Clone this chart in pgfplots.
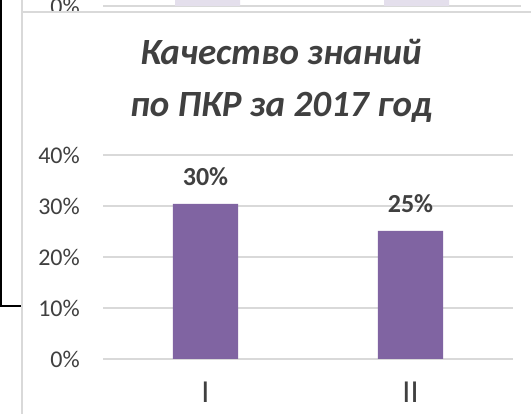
\documentclass[border=0pt]{standalone}
\usepackage{pgfplots}
\pgfplotsset{compat=1.18}
\pgfplotsset{/pgf/number format/assume math mode=true}
\usepackage{fontspec}
\setmainfont{Carlito}
\definecolor{barpurple}{HTML}{8064A2}
\definecolor{barpale}{HTML}{E4DFEC}
\definecolor{gridgrey}{HTML}{D9D9D9}
\definecolor{txt}{HTML}{404040}
\begin{document}
\begin{tikzpicture}[x=1pt,y=1pt]
\clip (0,0) rectangle (531,414);
\fill[white] (0,0) rectangle (531,414);
% bottom edge of the chart above, cut off by the frame
\begin{scope}
\clip (0,403) rectangle (531,414);
\begin{axis}[at={(103pt,408pt)}, anchor=south west, scale only axis,
  width=418pt, height=204pt, ymin=0, ymax=40, xmin=-0.5, xmax=1.5,
  axis line style={draw=none}, tick style={draw=none},
  ymajorgrids, grid style={gridgrey, line width=1.3pt},
  ytick={0,10,20,30,40}, yticklabel={\pgfmathprintnumber{\tick}\%},
  yticklabel style={font=\fontsize{24}{24}\selectfont, text=txt, inner sep=0pt, xshift=-23pt},
  xtick=\empty]
\addplot[ybar, bar width=65pt, fill=barpale, draw=none] coordinates {(0,30) (1,30)};
\end{axis}
\end{scope}
% frame lines
\draw[gridgrey, line width=1.5pt] (22,414) -- (22,0);
\draw[gridgrey, line width=1.5pt] (22,402) -- (531,402);
\draw[black, line width=2pt] (1,414) -- (1,108) -- (21,108);
% title
\node[font=\bfseries\itshape\fontsize{37}{37}\selectfont, text=txt, anchor=base] at (281,349) {Качество знаний};
\node[font=\bfseries\itshape\fontsize{37}{37}\selectfont, text=txt, anchor=base] at (281,297) {по ПКР за 2017 год};
% main chart
\begin{axis}[at={(103pt,55pt)}, anchor=south west, scale only axis,
  width=410pt, height=204pt, ymin=0, ymax=40, xmin=-0.5, xmax=1.5,
  axis line style={draw=none}, tick style={draw=none},
  ymajorgrids, grid style={gridgrey, line width=1.3pt},
  ytick={0,10,20,30,40}, yticklabel={\pgfmathprintnumber{\tick}\%},
  yticklabel style={font=\fontsize{24}{24}\selectfont, text=txt, inner sep=0pt, xshift=-23pt},
  xtick={0,1}, xticklabels={I,II},
  xticklabel style={font=\fontsize{32}{32}\selectfont, text=txt, inner sep=0pt, yshift=-23pt}]
\addplot[ybar, bar width=65pt, fill=barpurple, draw=none,
  nodes near coords={\pgfmathprintnumber[fixed,precision=0]{\pgfplotspointmeta}\%},
  nodes near coords style={font=\bfseries\fontsize{26}{26}\selectfont, text=txt, anchor=center, yshift=27pt}]
  coordinates {(0,30.4) (1,25.1)};
\end{axis}
\end{tikzpicture}
\end{document}
